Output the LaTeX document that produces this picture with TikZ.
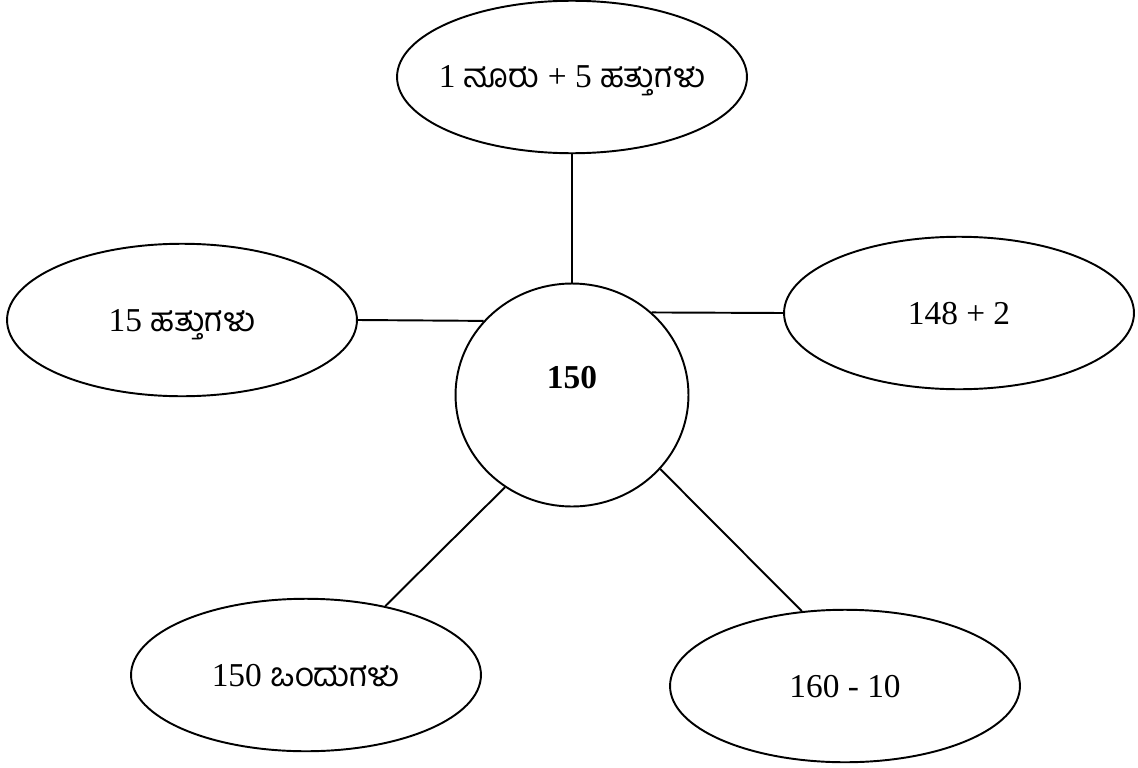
\documentclass[tikz,border=0pt]{standalone}
\usepackage{fontspec}
\setmainfont{Liberation Serif}
\newfontfamily\kn[Script=Kannada]{Hind Mysuru}
\usetikzlibrary{shapes.geometric}
\tikzstyle{line} = [draw, line width=1.1pt]
\tikzstyle{bubble} = [draw, ellipse, line width=1.1pt, inner sep=0pt, minimum width=7cm, minimum height=3.05cm, text centered, font=\fontsize{19}{22}\selectfont, text height=0.44cm, text depth=0cm]
\tikzstyle{hub} = [bubble, minimum width=4.66cm, minimum height=4.46cm, font=\fontsize{19}{22}\selectfont\bfseries, text depth=0.72cm]

\begin{document}
\begin{tikzpicture}[x=0.02cm, y=-0.02cm]
        \useasboundingbox (0,0) rectangle (1138,767);
        \node[hub] (centre) at (572,395) {150};
        \node[bubble, inner xsep=-0.22cm] (hundreds) at (572,77) {1 {\kn ನೂರು} + 5 {\kn ಹತ್ತುಗಳು}};
        \node[bubble] (tens) at (182,320) {15 {\kn ಹತ್ತುಗಳು}};
        \node[bubble] (sum) at (959,313) {148 + 2};
        \node[bubble] (ones) at (306,675) {150 {\kn ಒಂದುಗಳು}};
        \node[bubble] (diff) at (845,686) {160 - 10};
        \path[line] (hundreds) -- (centre);
        \path[line] (centre.140) -- (tens.east);
        \path[line] (centre.46) -- (sum.west);
        \path[line] (centre.234) -- (ones.41);
        \path[line] (centre.320) -- (diff.120);
    \end{tikzpicture}
\end{document}
